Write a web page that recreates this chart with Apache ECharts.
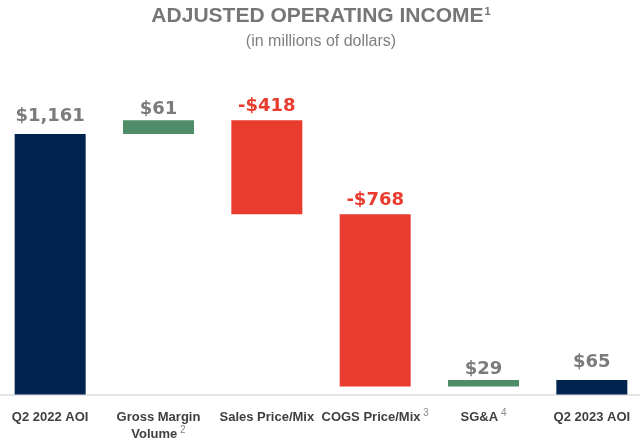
<!DOCTYPE html>
<html>
<head>
<meta charset="utf-8">
<script src="https://cdn.jsdelivr.net/npm/echarts@6/dist/echarts.min.js"></script>
<style>
  html, body { margin: 0; padding: 0; background: #fff; overflow: hidden; }
  /* 图表稍宽于窗口，让首尾柱子贴近边缘 */
  #chart { width: 650px; height: 443px; margin-left: -4px; }
</style>
</head>
<body>
<div id="chart"></div>
<script>
// 类目与数值
const categories = ["Q2 2022 AOI", "Gross Margin\nVolume", "Sales Price/Mix", "COGS Price/Mix", "SG&A", "Q2 2023 AOI"];
const footnotes = ["", "2", "", "3", "4", ""];
const values = [1161, 61, -418, -768, 29, 65];
const isTotal = [true, false, false, false, false, true];
const valueLabels = ["$1,161", "$61", "-$418", "-$768", "$29", "$65"];

// 标签与柱顶的间距（原图手工摆放，间距不一）
const labelGap = [9, 2.5, 5.5, 5, 2, 9];

// 颜色
const colorTotal = "#00234f";
const colorUp = "#4f8d69";
const colorDown = "#ea3b2f";
const labelGray = "#7b7b7b";

// 瀑布图：透明底座 + 可见柱
const baseData = [];
const barData = [];
let running = 0;
values.forEach((v, i) => {
  let base, h, color;
  if (isTotal[i]) {
    base = 0;
    h = v;
    running = v;
    color = colorTotal;
  } else if (v >= 0) {
    base = running;
    h = v;
    running += v;
    color = colorUp;
  } else {
    running += v;
    base = running;
    h = -v;
    color = colorDown;
  }
  baseData.push(base);
  barData.push({
    value: h,
    itemStyle: { color: color },
    label: { color: v < 0 ? colorDown : labelGray, distance: labelGap[i] },
  });
});

const chart = echarts.init(document.getElementById("chart"));

const option = {
  animation: false,
  title: {
    text: "{t|ADJUSTED OPERATING INCOME}{s|1}",
    subtext: "(in millions of dollars)",
    left: "center",
    top: 1,
    itemGap: 7,
    textStyle: {
      rich: {
        t: { fontFamily: "Liberation Sans", fontWeight: "bold", fontSize: 21, color: "#767676" },
        s: { fontFamily: "Liberation Sans", fontSize: 11, color: "#767676", padding: [0, 0, 9, 1] },
      },
    },
    subtextStyle: {
      fontFamily: "Liberation Sans",
      fontSize: 16,
      color: "#7f7f7f",
    },
  },
  grid: {
    left: 0,
    right: 0,
    top: 58,
    bottom: 44.5,
    containLabel: false,
  },
  xAxis: {
    type: "category",
    data: categories,
    axisLine: { lineStyle: { color: "#dcdcdc", width: 1.5 } },
    axisTick: { show: false },
    axisLabel: {
      interval: 0,
      margin: 14,
      formatter: (val, idx) => {
        const lines = val.split("\n");
        const last = lines.length - 1;
        return lines
          .map((l, j) => "{c|" + l + "}" + (j === last && footnotes[idx] ? "{s| " + footnotes[idx] + "}" : ""))
          .join("\n");
      },
      rich: {
        c: { fontFamily: "Liberation Sans", fontWeight: "bold", fontSize: 13, color: "#3f3f3f", lineHeight: 17 },
        s: { fontFamily: "Liberation Sans", fontSize: 10, color: "#8a8a8a", padding: [0, 0, 8, 0], lineHeight: 17 },
      },
    },
  },
  yAxis: {
    type: "value",
    min: 0,
    max: 1500,
    show: false,
    splitLine: { show: false },
  },
  series: [
    {
      type: "bar",
      stack: "wf",
      data: baseData,
      barWidth: 71,
      itemStyle: { color: "transparent" },
      silent: true,
    },
    {
      type: "bar",
      stack: "wf",
      data: barData,
      barWidth: 71,
      label: {
        show: true,
        position: "top",
        fontFamily: "DejaVu Sans",
        fontWeight: "bold",
        fontSize: 18,
        formatter: (p) => valueLabels[p.dataIndex],
      },
    },
  ],
};

chart.setOption(option);
window.addEventListener("resize", () => chart.resize());
</script>
</body>
</html>
